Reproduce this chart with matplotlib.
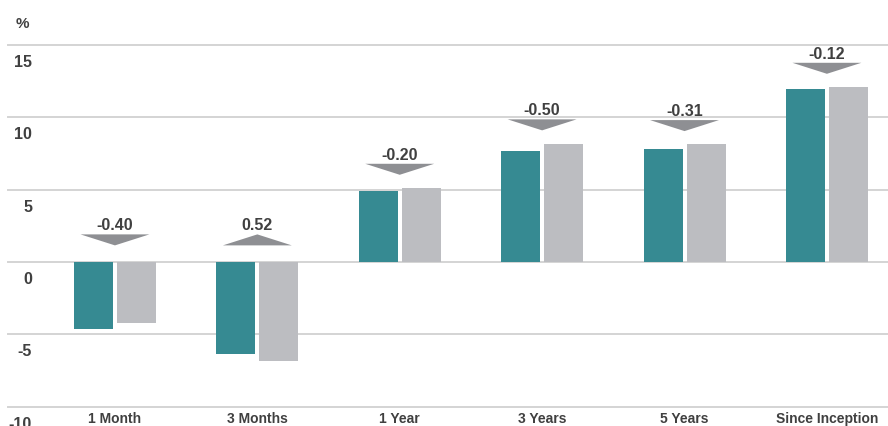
import matplotlib
matplotlib.use("Agg")
import matplotlib.pyplot as plt
import matplotlib.transforms as mtransforms
import numpy as np

# data
categories = ["1 Month", "3 Months", "1 Year", "3 Years", "5 Years", "Since Inception"]
fund = [-4.60, -6.33, 4.91, 7.68, 7.82, 11.97]
benchmark = [-4.20, -6.85, 5.11, 8.18, 8.13, 12.09]
diff_labels = ["-0.40", "0.52", "-0.20", "-0.50", "-0.31", "-0.12"]
yticks = [15, 10, 5, 0, -5, -10]

TEAL = "#368a92"
GREY = "#bcbdc1"
ARROW = "#8e8f93"
GRID = "#d4d4d4"
TEXT = "#404040"

plt.rcParams["font.family"] = ["Liberation Sans", "DejaVu Sans"]
plt.rcParams["font.weight"] = "bold"

fig = plt.figure(figsize=(8.88, 4.26), dpi=100)
ax = fig.add_axes([8 / 888, 1 - 406.7 / 426, 880 / 888, (406.7 - 45) / 426])

x = np.arange(len(categories))
w = 0.274
gap = 0.028
ax.bar(x - (w + gap) / 2, fund, w, color=TEAL, zorder=3)
ax.bar(x + (w + gap) / 2, benchmark, w, color=GREY, zorder=3)

for t in yticks:
    ax.axhline(t, color=GRID, lw=1.4, zorder=1, clip_on=False)

ax.set_xlim(-0.751, 5.429)
ax.set_ylim(-10, 15)
ax.axis("off")

# difference markers: triangle pointing down when fund lags benchmark
tri_w = 0.484
tri_h = 0.76
for i, lab in enumerate(diff_labels):
    top = max(0, fund[i], benchmark[i])
    lo = top + (1.15 if top == 0 else 0.92)
    hi = lo + tri_h
    xs = [i - tri_w / 2, i + tri_w / 2, i]
    if lab.startswith("-"):
        ys = [hi, hi, lo]
    else:
        ys = [lo, lo, hi]
    ax.fill(xs, ys, color=ARROW, lw=0, zorder=4)
    ax.text(i, hi + 0.6, lab, ha="center", va="center", fontsize=11.5, color=TEXT)

# y tick labels sit just below their gridlines
ytrans = mtransforms.offset_copy(ax.get_yaxis_transform(), fig=fig, y=-12.6, units="points")
for t in yticks:
    ax.text(24 / 880, t, str(t), transform=ytrans, ha="right", va="center",
            fontsize=11.5, color=TEXT, clip_on=False)

for i, c in enumerate(categories):
    ax.text(i, -0.045, c, transform=ax.get_xaxis_transform(), ha="center",
            va="baseline", fontsize=10, color=TEXT, clip_on=False)

fig.text(22 / 888, 1 - 24 / 426, "%", ha="center", va="center", fontsize=11, color=TEXT)

fig.savefig("out.png", dpi=100)
